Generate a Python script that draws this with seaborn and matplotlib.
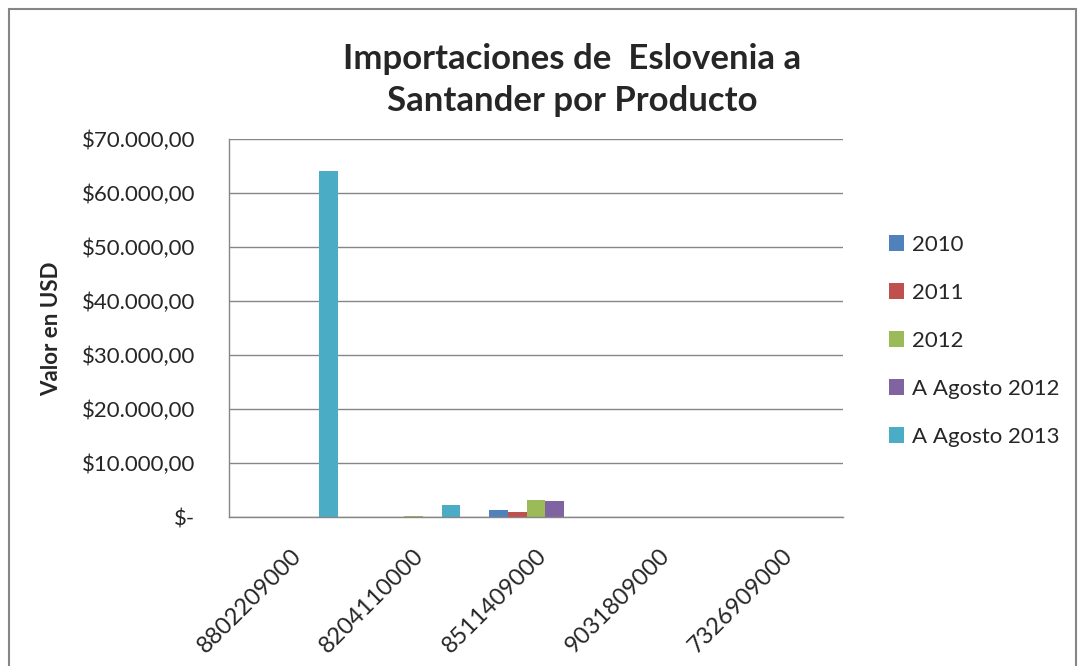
import matplotlib
matplotlib.use('Agg')
import matplotlib.pyplot as plt
import matplotlib.patches as mpatches
import matplotlib.transforms as mtransforms
import numpy as np
import pandas as pd
import seaborn as sns

sns.set_style('white')
plt.rcParams['font.family'] = ['Lato', 'DejaVu Sans']

productos = ['8802209000', '8204110000', '8511409000', '9031809000', '7326909000']
series = ['2010', '2011', '2012', 'A Agosto 2012', 'A Agosto 2013']
v2010 = [0, 0, 1420, 0, 0]
v2011 = [0, 0, 1050, 100, 80]
v2012 = [0, 200, 3150, 0, 0]
ago2012 = [0, 0, 3090, 0, 0]
ago2013 = [64100, 2220, 0, 0, 0]
colores = ['#4F81BD', '#C0504D', '#9BBB59', '#8064A2', '#4BACC6']
yticks = [0, 10000, 20000, 30000, 40000, 50000, 60000, 70000]
ylabels = ['$-', '$10.000,00', '$20.000,00', '$30.000,00', '$40.000,00',
           '$50.000,00', '$60.000,00', '$70.000,00']

df = pd.DataFrame({'Producto': productos, series[0]: v2010, series[1]: v2011,
                   series[2]: v2012, series[3]: ago2012, series[4]: ago2013})
df = df.melt(id_vars='Producto', var_name='Serie', value_name='Valor')

fig = plt.figure(figsize=(10.81, 6.66), dpi=100)
ax = fig.add_axes([229 / 1081, 1 - 517.3 / 666, 614 / 1081, 378 / 666])

sns.barplot(data=df, x='Producto', y='Valor', hue='Serie', order=productos,
            hue_order=series, palette=colores, width=0.77, gap=0,
            saturation=1, errorbar=None, ax=ax, legend=True, linewidth=0)

gris = '#868686'
ax.set_ylim(0, 70000)
ax.set_xlim(-0.5, 4.5)
ax.set_yticks(yticks)
ax.set_yticklabels(ylabels, fontsize=16)
ax.yaxis.grid(True, color=gris, linewidth=1)
ax.set_axisbelow(True)
ax.set_xticks(range(len(productos)))
ax.set_xticklabels(productos, fontsize=17, rotation=45, ha='right', va='top',
                   rotation_mode='anchor')
desplaza = mtransforms.ScaledTranslation(-6 / 100, -6 / 100, fig.dpi_scale_trans)
for lab in ax.get_xticklabels():
    lab.set_transform(lab.get_transform() + desplaza)
ax.set_xticks(np.arange(-0.5, 5, 1), minor=True)
ax.tick_params(axis='x', which='major', length=0, pad=20)
ax.tick_params(axis='x', which='minor', length=6.5, color=gris, width=1)
ax.tick_params(axis='y', length=6.5, color=gris, width=1, pad=18)
for s in ['top', 'right']:
    ax.spines[s].set_visible(False)
for s in ['left', 'bottom']:
    ax.spines[s].set_color(gris)
    ax.spines[s].set_linewidth(1)
ax.set_xlabel('')
ax.set_ylabel('Valor en USD', fontsize=16, fontweight='bold', labelpad=14)

leg = ax.legend(loc='upper left', bbox_to_anchor=(1.042, 0.80), frameon=False,
                fontsize=16, handlelength=0.68, handleheight=0.68,
                handletextpad=0.35, labelspacing=1.26)

fig.text(572 / 1081, 1 - 80 / 666, 'Importaciones de  Eslovenia a\nSantander por Producto',
         ha='center', va='center', fontsize=25, fontweight='bold', linespacing=1.4)

fig.patches.append(mpatches.Rectangle((9 / 1081, -0.05), 1067 / 1081, 1.05 - 9 / 666,
                                      transform=fig.transFigure, fill=False,
                                      edgecolor=gris, linewidth=1.5))

fig.savefig('out.png', dpi=100)
